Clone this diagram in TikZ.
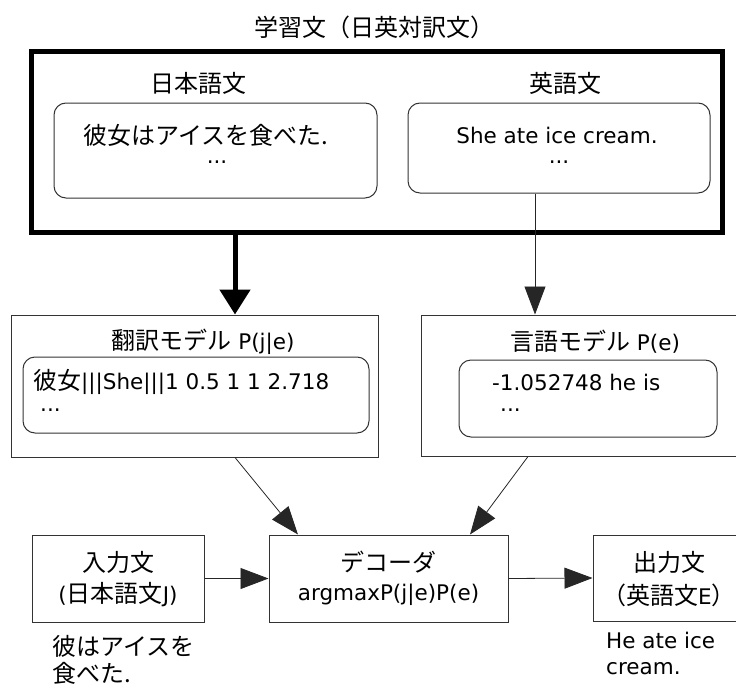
\documentclass[tikz,border=0pt]{standalone}
\usepackage{fontspec}
\setmainfont{DejaVu Sans}
\newfontfamily\jpf{Noto Sans CJK JP}
\newcommand{\jp}[1]{{\jpf\fontsize{24}{28}\selectfont #1}}
\usetikzlibrary{arrows.meta}
\begin{document}
\begin{tikzpicture}[x=1pt,y=-1pt,
  every node/.style={font=\fontsize{21.5}{26}\selectfont, inner sep=0pt},
  box/.style={draw=black!80, line width=1pt, rectangle},
  rbox/.style={draw=black!80, line width=1pt, rectangle, rounded corners=12pt},
  lbl/.style={anchor=center},
  txt/.style={anchor=west},
  thin arrow/.style={draw=black!85, line width=0.8pt, -{Triangle[length=28pt,width=21pt]}},
  thick arrow/.style={draw=black, line width=5pt, -{Triangle[length=25pt,width=30pt]}}
]
\useasboundingbox (0,0) rectangle (736,688);
% boxes
\node[box, line width=5pt, draw=black, minimum width=691pt, minimum height=181pt] (outer) at (376.5,141.5) {};
\node[rbox, minimum width=323pt, minimum height=95pt] (jp) at (215.5,150.5) {};
\node[rbox, minimum width=302pt, minimum height=90pt] (en) at (559,148) {};
\node[box, minimum width=367pt, minimum height=142pt] (tm) at (194.5,386) {};
\node[rbox, minimum width=346pt, minimum height=76pt] (tmin) at (196,395) {};
\node[box, minimum width=316pt, minimum height=141pt] (lm) at (579,385.5) {};
\node[rbox, minimum width=258pt, minimum height=77pt] (lmin) at (588,398.5) {};
\node[box, minimum width=172pt, minimum height=87pt] (inp) at (118,578.5) {};
\node[box, minimum width=239pt, minimum height=87pt] (dec) at (388.5,578.5) {};
\node[box, minimum width=144pt, minimum height=86pt] (outp) at (665,578) {};
% texts
\node[lbl] (title) at (374,27) {\jp{学習文（日英対訳文）}};
\node[lbl] (jplbl) at (198,83) {\jp{日本語文}};
\node[lbl] (enlbl) at (565,83) {\jp{英語文}};
\node[lbl] (jps) at (206,135) {\jp{彼女はアイスを食べた.}};
\node[lbl] (jpd) at (217,162) {...};
\node[lbl] (ens) at (557,135) {She ate ice cream.};
\node[lbl] (end) at (559,162) {...};
\node[lbl] (tmlbl) at (203,342) {\jp{翻訳モデル} P(j|e)};
\node[txt] (tml1) at (33,382) {\jp{彼女}|||She|||1 0.5 1 1 2.718};
\node[txt] (tml2) at (40,410) {...};
\node[lbl] (lmlbl) at (595,342) {\jp{言語モデル} P(e)};
\node[txt] (lml1) at (492,382) {-1.052748 he is};
\node[txt] (lml2) at (500,410) {...};
\node[lbl] (inp1) at (118,562) {\jp{入力文}};
\node[lbl] (inp2) at (118,595) {(\jp{日本語文}J)};
\node[lbl] (dec1) at (388.5,562) {\jp{デコーダ}};
\node[lbl] (dec2) at (388.5,595) {argmaxP(j|e)P(e)};
\node[lbl] (out1) at (669,562) {\jp{出力文}};
\node[lbl] (out2) at (669,595) {\jp{（英語文}E\jp{）}};
\node[txt] (ex1) at (52,646) {\jp{彼はアイスを}};
\node[txt] (ex2) at (52,673) {\jp{食べた.}};
\node[txt] (ey1) at (606,640) {He ate ice};
\node[txt] (ey2) at (606,669) {cream.};
% connectors
\coordinate (a1) at (235,0);
\coordinate (a2) at (535,0);
\coordinate (b1) at (235,0);
\coordinate (c1) at (298,0);
\coordinate (b2) at (528,0);
\coordinate (c2) at (470,0);
\draw[thick arrow] (outer.south -| a1) -- (tm.north -| a1);
\draw[thin arrow] (en.south -| a2) -- (lm.north -| a2);
\draw[thin arrow] (tm.south -| b1) -- (dec.north -| c1);
\draw[thin arrow] (lm.south -| b2) -- (dec.north -| c2);
\draw[thin arrow] (inp.east) -- (dec.west);
\draw[thin arrow] (dec.east) -- (outp.west);
\end{tikzpicture}
\end{document}
